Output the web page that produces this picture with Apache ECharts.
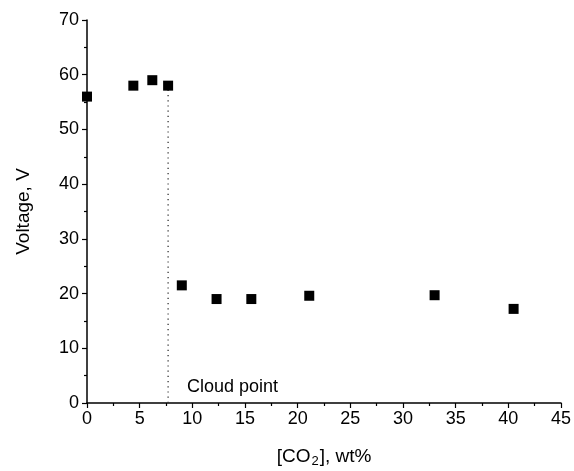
<!DOCTYPE html>
<html><head><meta charset="utf-8">
<script src="https://cdn.jsdelivr.net/npm/echarts@6/dist/echarts.min.js"></script>
<style>html,body{margin:0;padding:0;background:#fff}#c{width:574px;height:471px}</style>
</head><body><div id="c"></div>
<script>
var co2 = [0, 4.4, 6.2, 7.7, 9.0, 12.3, 15.6, 21.1, 33.0, 40.5];
var voltage = [56, 58, 59, 58, 21.5, 19.0, 19.0, 19.6, 19.7, 17.2];
var cloudPointX = 7.7;
var cloudLine = [[cloudPointX, 0], [cloudPointX, 58]];
var xTicks = [0, 5, 10, 15, 20, 25, 30, 35, 40, 45];
var yTicks = [0, 10, 20, 30, 40, 50, 60, 70];

var chart = echarts.init(document.getElementById('c'));
var font = 'Liberation Sans, Arial, sans-serif';
chart.setOption({
  animation: false,
  backgroundColor: '#fff',
  grid: {left: 87, right: 13, top: 20, bottom: 68, containLabel: false, outerBoundsMode: 'none'},
  xAxis: {
    type: 'value', min: 0, max: 45, interval: 5,
    axisLine: {onZero: false, lineStyle: {color: '#000', width: 1.5}},
    axisTick: {show: true, inside: false, length: 5, lineStyle: {color: '#000', width: 1.2}},
    minorTick: {show: true, splitNumber: 2, length: 3, lineStyle: {color: '#000', width: 1.2}},
    splitLine: {show: false},
    axisLabel: {color: '#000', fontSize: 18, fontFamily: font, margin: 7,
      formatter: function (v) { return xTicks.indexOf(v) >= 0 ? String(v) : ''; }},
    name: '{a|[CO}{s|2}{a|], wt%}', nameLocation: 'middle', nameGap: 42,
    nameTextStyle: {rich: {
      a: {fontSize: 19, fontFamily: font, color: '#000'},
      s: {fontSize: 13, fontFamily: font, color: '#000', verticalAlign: 'bottom', padding: [10, 1, 0, 1]}
    }}
  },
  yAxis: {
    type: 'value', min: 0, max: 70, interval: 10,
    axisLine: {show: true, onZero: false, lineStyle: {color: '#000', width: 1.5}},
    axisTick: {show: true, inside: false, length: 5, lineStyle: {color: '#000', width: 1.2}},
    minorTick: {show: true, splitNumber: 2, length: 3, lineStyle: {color: '#000', width: 1.2}},
    splitLine: {show: false},
    axisLabel: {color: '#000', fontSize: 18, fontFamily: font, margin: 8,
      formatter: function (v) { return yTicks.indexOf(v) >= 0 ? String(v) : ''; }},
    name: 'Voltage, V', nameLocation: 'middle', nameGap: 54,
    nameTextStyle: {fontSize: 19, fontFamily: font, color: '#000'}
  },
  series: [
    {
      type: 'line', data: cloudLine, symbol: 'none', silent: true,
      lineStyle: {color: '#333', width: 1.3, type: [1.2, 4]},
      z: 1
    },
    {
      type: 'scatter', data: co2.map(function (x, i) { return [x, voltage[i]]; }),
      symbol: 'rect', symbolSize: 10, itemStyle: {color: '#000', opacity: 1}, z: 3,
      clip: false
    }
  ],
  graphic: [{
    type: 'text', left: 187, top: 378,
    style: {text: 'Cloud point', fontSize: 18, fontFamily: font, fill: '#000'}
  }]
});
</script></body></html>
